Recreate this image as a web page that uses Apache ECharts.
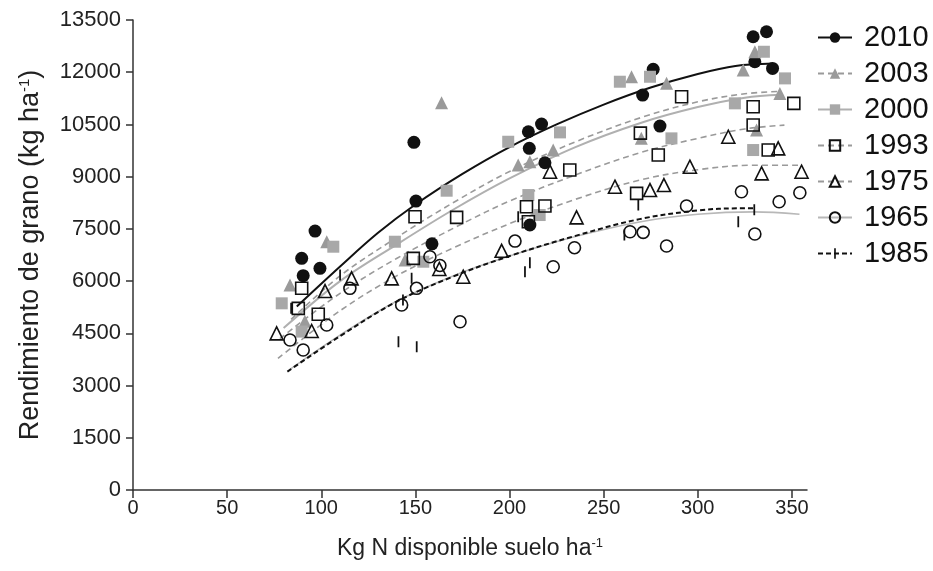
<!DOCTYPE html>
<html><head><meta charset="utf-8">
<script src="https://cdn.jsdelivr.net/npm/echarts@6/dist/echarts.min.js"></script>
<style>html,body{margin:0;padding:0;background:#fff}#c{width:933px;height:571px}</style>
</head><body><div id="c"></div>
<script>
const years = ['2010','2003','2000','1993','1975','1965','1985'];
const xTickValues = [0,50,100,150,200,250,300,350];

// observed points [N available, yield]
const pts2010 = [[89.6,6654],[90.4,6155],[96.7,7438],[99.3,6367],[149.2,9986],[150.3,8300],[158.8,7070],[210,10290],[217,10511],[210.5,9814],[218.8,9400],[210.8,7611],[270.7,11344],[276.3,12082],[279.9,10454],[329.4,13019],[336.5,13163],[330.3,12301],[339.7,12110]];
const pts2003 = [[83.4,5888],[91.3,4850],[102.9,7131],[144.5,6606],[163.9,11123],[204.6,9334],[210.8,9430],[223.2,9765],[264.8,11870],[270,10100],[283.4,11680],[324.1,12062],[330.3,12588],[331.2,10339],[343.6,11392]];
const pts2000 = [[79,5362],[89.6,4550],[106.4,6988],[139.1,7131],[154.2,6557],[166.6,8597],[199.3,10003],[210,8472],[216,7898],[226.8,10272],[258.6,11727],[274.6,11870],[286,10100],[319.7,11106],[329.4,9765],[335.1,12588],[346.3,11823]];
const pts1993 = [[87.8,5218],[89.6,5793],[98.4,5046],[148.9,6654],[149.8,7850],[171.9,7831],[209,8137],[210,7706],[218.8,8156],[232,9190],[267.5,8521],[269.5,10250],[279,9621],[291.4,11296],[329.4,11009],[329.4,10483],[337.4,9765],[351,11106]];
const pts1975 = [[76.3,4500],[94.9,4567],[102,5715],[116.1,6080],[137.4,6080],[162.7,6350],[175.4,6127],[195.8,6870],[221.5,9142],[235.6,7831],[256,8711],[274.6,8616],[282,8760],[295.8,9286],[316.2,10147],[333.9,9095],[342.7,9813],[355.1,9142]];
const pts1965 = [[83.4,4308],[90.4,4021],[102.9,4739],[115.2,5793],[142.7,5313],[150.6,5793],[157.7,6701],[163,6450],[173.7,4834],[202.9,7150],[223.2,6413],[234.5,6960],[264,7418],[271,7400],[283.4,7008],[294,8156],[323.2,8568],[330.3,7352],[343.2,8280],[354.2,8539]];
const pts1985 = [[84,5220],[110,6175],[141,4260],[143.4,5457],[148,6080],[150.7,4116],[204.6,7850],[208.2,6270],[210.8,6528],[261,7323],[268.4,8185],[321.5,7706],[330,8050]];

// fitted curves
const fit2010 = [[87,5270],[110,6420],[130,7380],[150,8200],[175,9080],[200,9850],[225,10500],[250,11070],[275,11560],[300,11950],[320,12180],[340,12250]];
const fit2003 = [[84,4900],[110,6150],[140,7250],[170,8250],[200,9150],[235,10000],[270,10700],[300,11150],[325,11380],[344,11450]];
const fit2000 = [[80,4650],[110,6000],[140,7050],[170,8050],[200,8950],[235,9850],[270,10550],[300,11000],[325,11270],[344,11350]];
const fit1993 = [[78,4350],[110,5650],[140,6650],[175,7650],[200,8300],[235,9050],[270,9700],[300,10100],[325,10370],[346,10480]];
const fit1975 = [[77,3780],[110,5150],[140,6150],[170,6950],[200,7650],[235,8350],[269,8900],[300,9200],[330,9330],[354,9330]];
const fit1965 = [[83,3450],[110,4450],[140,5420],[170,6150],[200,6720],[235,7280],[269,7700],[300,7920],[330,7990],[354,7920]];
const fit1985 = [[82,3400],[110,4420],[140,5410],[170,6130],[200,6720],[235,7300],[269,7780],[300,8030],[322,8090],[330,8090]];

const FONT = 'Liberation Sans, Arial, sans-serif';
// thin vertical tick inside a square box (tiny corner dots keep the box square)
const tickPath = 'path://M4.2,0 L5.8,0 L5.8,10 L4.2,10 Z M0,10 L0.01,10 L0.01,10.01 Z M10,0 L10.01,0 L10.01,0.01 Z';

const styles = {
  '2010': {pts: pts2010, fit: fit2010, symbol: 'circle', size: 13, fill: '#111', stroke: '#111', bw: 0, line: '#111', lw: 2, type: 'solid'},
  '2003': {pts: pts2003, fit: fit2003, symbol: 'triangle', size: 13, fill: '#9a9a9a', stroke: '#9a9a9a', bw: 0, line: '#9a9a9a', lw: 1.6, type: [6,4]},
  '2000': {pts: pts2000, fit: fit2000, symbol: 'rect', size: 12, fill: '#a8a8a8', stroke: '#a8a8a8', bw: 0, line: '#b0b0b0', lw: 2, type: 'solid'},
  '1993': {pts: pts1993, fit: fit1993, symbol: 'rect', size: 12, fill: 'rgba(255,255,255,0)', stroke: '#111', bw: 1.6, line: '#9a9a9a', lw: 1.6, type: [6,4]},
  '1975': {pts: pts1975, fit: fit1975, symbol: 'triangle', size: 13, fill: 'rgba(255,255,255,0)', stroke: '#111', bw: 1.6, line: '#9a9a9a', lw: 1.6, type: [6,4]},
  '1965': {pts: pts1965, fit: fit1965, symbol: 'circle', size: 12, fill: 'rgba(255,255,255,0)', stroke: '#111', bw: 1.6, line: '#b8b8b8', lw: 1.6, type: 'solid'},
  '1985': {pts: pts1985, fit: fit1985, symbol: tickPath, size: 11, fill: '#111', stroke: '#111', bw: 0, line: '#111', lw: 2, type: [5,3]}
};

const series = [];
years.forEach(function (y) {
  const s = styles[y];
  series.push({
    name: y, type: 'line', data: s.fit, smooth: 0.35, showSymbol: false,
    symbol: s.symbol, symbolSize: s.size,
    itemStyle: {color: s.fill, borderColor: s.stroke, borderWidth: s.bw},
    lineStyle: {color: s.line, width: s.lw, type: s.type},
    silent: true, z: 2
  });
  series.push({
    name: y, type: 'scatter', data: s.pts,
    symbol: s.symbol, symbolSize: s.size,
    itemStyle: {color: s.fill, borderColor: s.stroke, borderWidth: s.bw, opacity: 1},
    z: 3
  });
});

const chart = echarts.init(document.getElementById('c'), null, {renderer: 'canvas'});
chart.setOption({
  animation: false,
  backgroundColor: '#fff',
  textStyle: {fontFamily: FONT},
  grid: {left: 133, right: 126, top: 20, bottom: 81, containLabel: false},
  legend: {
    orient: 'vertical', left: 812, top: 18,
    itemWidth: 34, itemHeight: 13, itemGap: 7,
    data: years,
    textStyle: {fontSize: 29, color: '#111', fontFamily: FONT, padding: [0, 0, 0, 7]}
  },
  xAxis: {
    type: 'value', min: 0, max: 358,
    name: 'Kg N disponible suelo ha{sup|-1}',
    nameLocation: 'middle', nameGap: 47,
    nameTextStyle: {fontSize: 23, color: '#222', fontFamily: FONT,
      rich: {sup: {fontSize: 13, verticalAlign: 'top', padding: [0,0,11,0], color: '#222'}}},
    axisLine: {show: true, lineStyle: {color: '#333', width: 1.5}},
    axisTick: {show: true, length: 8, customValues: xTickValues, lineStyle: {color: '#333', width: 1.5}},
    axisLabel: {customValues: xTickValues, fontSize: 20, color: '#222', margin: 8, fontFamily: FONT},
    splitLine: {show: false}
  },
  yAxis: {
    type: 'value', min: 0, max: 13500, interval: 1500,
    name: 'Rendimiento de grano (kg ha{sup|-1})',
    nameLocation: 'middle', nameGap: 88, nameRotate: 90,
    nameTextStyle: {fontSize: 27, color: '#222', fontFamily: FONT,
      rich: {sup: {fontSize: 15, verticalAlign: 'top', padding: [0,0,13,0], color: '#222'}}},
    axisLine: {show: true, lineStyle: {color: '#333', width: 1.5}},
    axisTick: {show: true, length: 7, lineStyle: {color: '#333', width: 1.5}},
    axisLabel: {fontSize: 22, color: '#222', margin: 12, fontFamily: FONT,
      formatter: function (v) { return String(v); }},
    splitLine: {show: false}
  },
  series: series
});
</script>
</body></html>
